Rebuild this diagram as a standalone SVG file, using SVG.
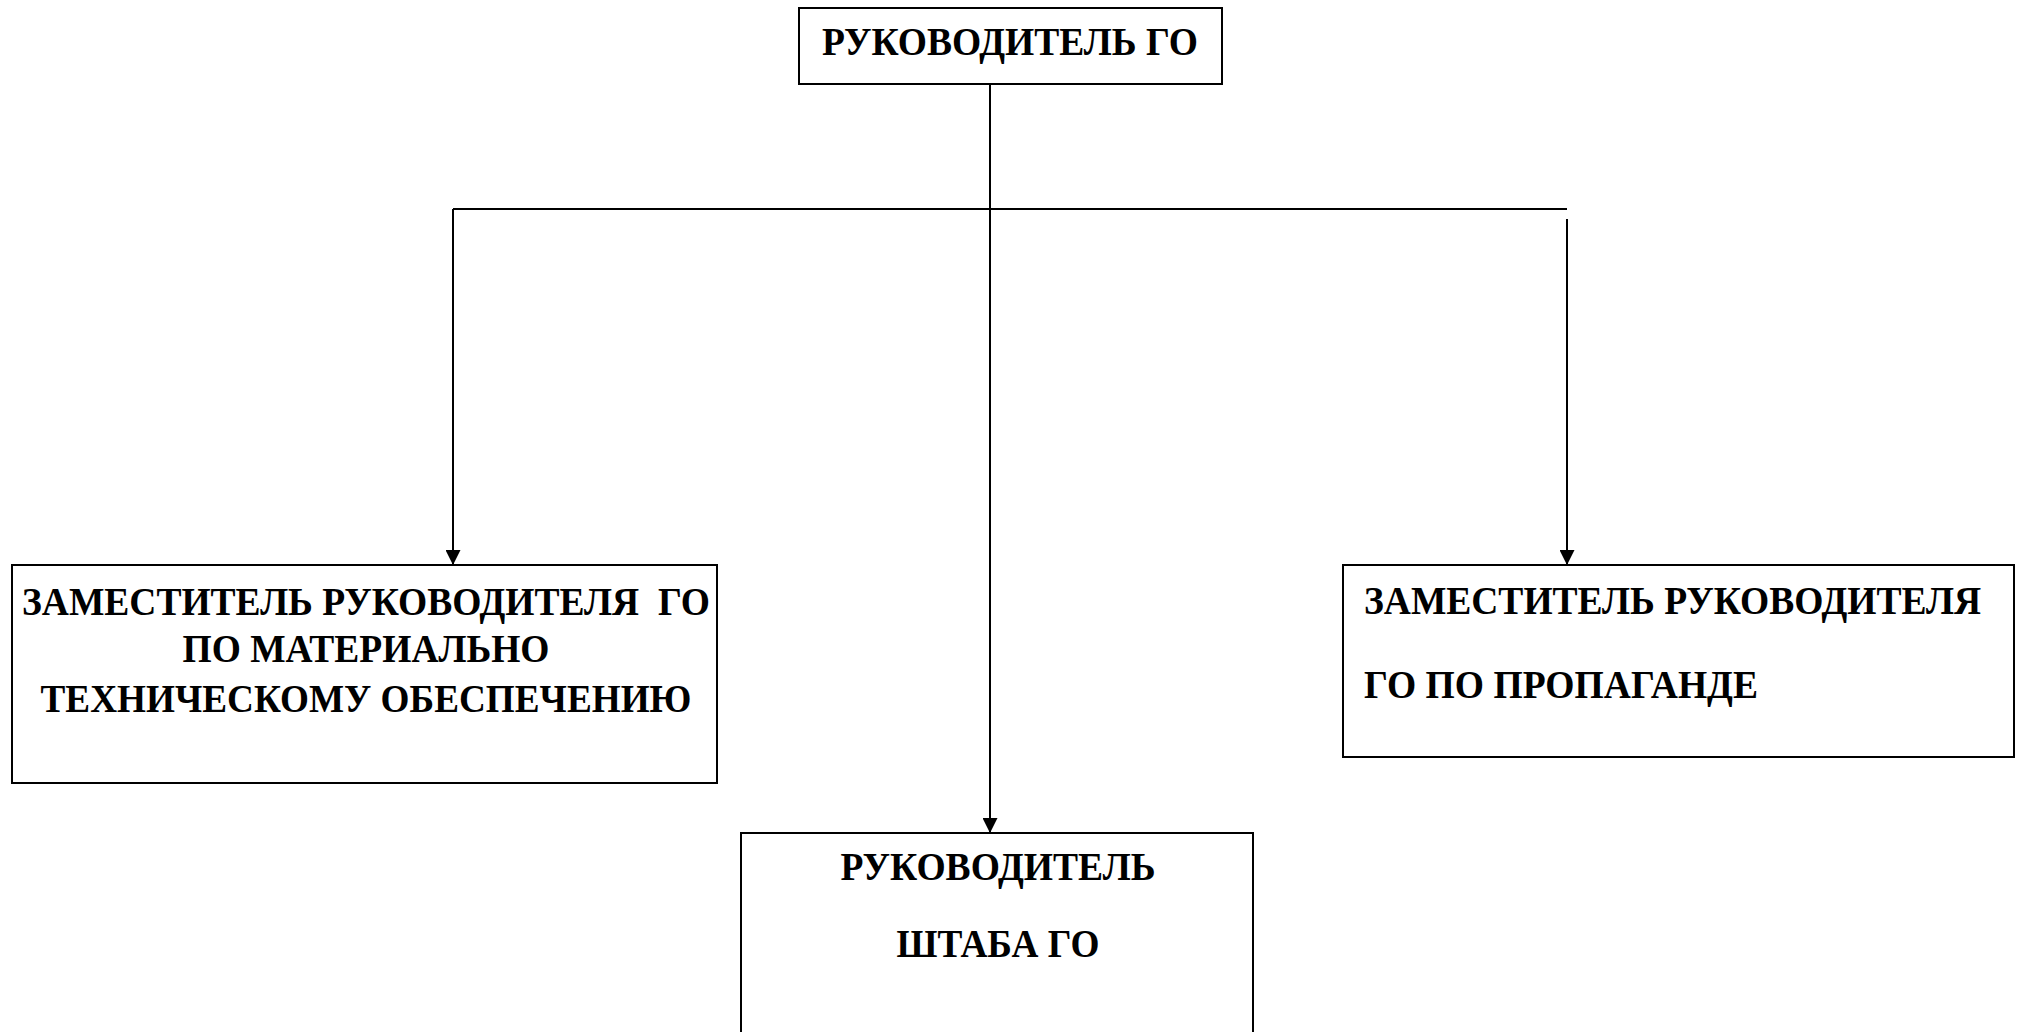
<svg xmlns="http://www.w3.org/2000/svg" width="2024" height="1032" viewBox="0 0 2024 1032">
<style>
.box{fill:#fff;stroke:#000;stroke-width:2}
.t{font-family:"Liberation Serif","Times New Roman",serif;font-weight:bold;font-size:41px;fill:#000;white-space:pre}
.m{text-anchor:middle}
.c{fill:none;stroke:#000;stroke-width:2}
</style>
<defs>
<marker id="ah" viewBox="0 0 10 10" refX="10" refY="5" markerUnits="userSpaceOnUse" markerWidth="15" markerHeight="15" orient="auto">
<path d="M0,0 L10,5 L0,10 Z" fill="#000"/>
</marker>
</defs>
<rect width="2024" height="1032" fill="#fff"/>
<g id="connectors">
<line class="c" x1="990" y1="84" x2="990" y2="833" marker-end="url(#ah)"/>
<line class="c" x1="453" y1="209" x2="1567" y2="209"/>
<line class="c" x1="453" y1="209" x2="453" y2="565" marker-end="url(#ah)"/>
<line class="c" x1="1567" y1="219" x2="1567" y2="565" marker-end="url(#ah)"/>
</g>
<g id="node-head">
<rect class="box" x="799" y="8" width="423" height="76"/>
<text class="t" x="822" y="55" textLength="376" lengthAdjust="spacingAndGlyphs">РУКОВОДИТЕЛЬ ГО</text>
</g>
<g id="node-deputy-mto">
<rect class="box" x="12" y="565" width="705" height="218"/>
<text class="t m" x="366" y="615" textLength="688" lengthAdjust="spacingAndGlyphs">ЗАМЕСТИТЕЛЬ РУКОВОДИТЕЛЯ  ГО</text>
<text class="t m" x="366" y="662" textLength="367" lengthAdjust="spacingAndGlyphs">ПО МАТЕРИАЛЬНО</text>
<text class="t m" x="366" y="712" textLength="651" lengthAdjust="spacingAndGlyphs">ТЕХНИЧЕСКОМУ ОБЕСПЕЧЕНИЮ</text>
</g>
<g id="node-deputy-propaganda">
<rect class="box" x="1343" y="565" width="671" height="192"/>
<text class="t" x="1364" y="614" textLength="617" lengthAdjust="spacingAndGlyphs">ЗАМЕСТИТЕЛЬ РУКОВОДИТЕЛЯ</text>
<text class="t" x="1364" y="698" textLength="394" lengthAdjust="spacingAndGlyphs">ГО ПО ПРОПАГАНДЕ</text>
</g>
<g id="node-staff">
<rect class="box" x="741" y="833" width="512" height="220"/>
<text class="t m" x="998" y="880" textLength="315" lengthAdjust="spacingAndGlyphs">РУКОВОДИТЕЛЬ</text>
<text class="t m" x="998" y="957" textLength="203" lengthAdjust="spacingAndGlyphs">ШТАБА ГО</text>
</g>
</svg>
